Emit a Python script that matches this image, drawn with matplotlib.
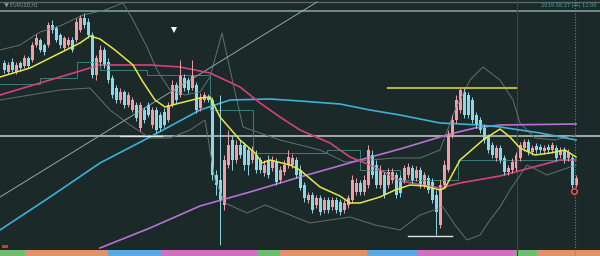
import numpy as np
import matplotlib
matplotlib.use("Agg")
from matplotlib import pyplot as plt

plt.rcParams['font.family'] = ['Noto Sans CJK KR', 'DejaVu Sans']

# candle data, price expressed in screen rows (smaller = higher)
opens = [63,72,62,72,63,66,58,60,45,40,
         45,45,25,28,35,48,45,40,40,30,
         18,22,35,75,62,50,62,78,88,100,
         92,105,110,105,128,110,105,125,110,115,
         112,120,105,85,95,78,80,88,85,108,
         100,97,100,175,180,205,165,140,160,145,
         145,150,160,155,160,173,160,168,162,180,
         172,165,165,160,170,185,200,195,205,198,
         210,200,207,200,202,210,205,200,192,183,
         192,185,155,165,185,175,185,180,175,178,
         180,175,168,178,170,185,178,182,195,225,
         185,170,135,120,110,92,95,100,115,120,
         128,137,145,158,148,158,172,170,168,158,
         148,142,152,146,147,151,147,150,148,155,
         150,158,158,185]
closes = [70,65,70,65,68,58,66,45,38,50,
          52,25,30,40,45,38,40,50,22,18,
          25,35,75,58,50,65,80,95,100,92,
          105,95,100,118,105,120,115,110,130,128,
          125,105,85,100,75,88,90,75,110,97,
          95,100,175,185,200,160,145,160,145,155,
          165,165,150,170,170,165,175,160,182,170,
          165,157,158,175,188,198,195,210,198,212,
          200,210,200,210,212,203,198,180,183,192,
          180,150,175,185,170,195,172,172,195,193,
          168,167,180,170,185,175,190,200,212,185,
          165,135,120,100,90,115,115,120,125,130,
          140,150,155,148,160,172,168,162,155,145,
          142,152,148,150,150,148,150,145,158,150,
          160,152,185,178]
highs = [60,62,58,62,61,55,56,42,34,38,
         43,22,20,26,33,36,37,37,18,15,
         13,18,32,55,45,47,58,75,85,88,
         90,92,97,102,102,107,102,107,107,112,
         108,102,80,82,60,74,77,60,82,93,
         92,94,97,170,95,155,130,135,140,140,
         142,147,146,150,157,160,155,156,158,166,
         160,150,154,157,165,182,192,192,195,195,
         197,197,197,197,199,200,195,175,178,180,
         175,145,150,160,165,172,168,168,172,175,
         165,163,165,166,167,172,175,178,190,180,
         160,130,115,95,87,88,92,97,112,117,
         125,134,142,145,145,155,165,158,152,142,
         139,139,145,143,144,145,144,142,145,147,
         147,149,155,175]
lows = [73,74,72,74,71,68,68,62,47,52,
        55,47,33,42,48,50,47,52,42,32,
        28,38,78,80,65,68,83,98,103,103,
        108,107,112,121,131,123,117,128,133,131,
        127,122,107,103,97,91,93,90,113,111,
        102,102,180,195,245,210,168,170,163,158,
        170,175,163,173,173,176,178,171,185,183,
        175,168,168,178,190,202,203,213,208,215,
        213,213,210,213,215,213,208,203,195,195,
        195,188,178,188,188,198,188,183,198,197,
        183,178,183,181,188,188,193,203,235,228,
        188,172,138,123,113,118,118,123,128,133,
        143,153,158,161,163,175,175,173,171,161,
        151,155,155,153,153,154,153,153,161,158,
        163,161,188,187]

# moving averages
yellow_x = [0,30,60,80,90,100,115,133,143,155,165,180,200,210,220,240,255,262,270,290,300,
            320,340,350,360,380,395,410,425,440,445,460,475,483,500,510,520,535,550,565,576]
yellow_y = [77,68,53,43,36,39,50,65,82,100,107,103,98,97,117,140,153,163,160,165,170,
            187,196,203,203,197,190,185,186,190,188,160,147,140,129,137,148,155,153,150,157]
pink_x = [0,50,90,100,150,180,200,210,240,260,280,300,330,350,375,400,440,460,500,530,560,576]
pink_y = [95,80,68,65,65,67,71,73,87,103,117,130,143,157,167,181,188,183,176,168,160,160]
cyan_x = [0,50,100,150,200,230,270,300,340,370,400,440,480,500,540,576]
cyan_y = [230,197,163,137,110,100,99,101,104,110,115,123,125,127,133,140]
violet_x = [100,150,200,250,300,360,400,430,450,475,500,576]
violet_y = [248,228,206,192,177,160,149,140,134,128,125,124]

# bands
upper_x = [0,20,40,60,83,105,123,133,147,157,170,185,200,210,222,233,243,260,280,300,320,
           345,370,395,420,440,455,470,483,500,513,520,535,555,576]
upper_y = [50,45,32,26,15,10,3,20,47,70,90,95,92,77,33,83,127,133,140,145,150,
           162,160,158,158,150,110,80,67,80,100,123,138,140,135]
lower_x = [0,30,60,90,110,130,150,170,190,205,215,225,247,265,290,310,330,350,375,400,420,
           443,455,467,480,490,500,510,527,547,576]
lower_y = [100,95,90,88,110,125,138,138,130,120,180,203,213,205,215,223,220,217,225,230,215,
           207,225,240,235,220,207,190,165,175,165]

# step line (teal)
teal_x = [0,40,40,77,77,100,100,147,147,210,210,253,253,327,327,360,360,400,400,458,458,573]
teal_y = [84,84,78,78,62,62,70,70,75,75,110,110,153,153,150,150,170,170,180,180,160,160]

# session strip at bottom
strip_start = [0,25,108,162,258,280,367,418,515,537]
strip_width = [25,83,54,96,22,87,51,97,22,63]
strip_color = ['#6cbf6c','#e0926c','#5ea8e0','#d070c4','#6cbf6c','#e0926c','#5ea8e0','#d070c4','#6cbf6c','#e0926c']

bg = '#1b2929'
fig = plt.figure(figsize=(6, 2.56), dpi=100)
fig.patch.set_facecolor(bg)
ax = fig.add_axes([0, 0, 1, 1])
ax.set_facecolor(bg)
ax.set_xlim(0, 600)
ax.set_ylim(256, 0)
ax.axis('off')

# frame lines
ax.axhline(1.5, color='#5a6a6a', lw=1)
ax.axhline(11, color='#7fa09a', lw=1.2)
ax.axhline(136, color='#aab6b2', lw=1.3)
ax.axvline(517, color='#34474a', lw=0.8)
ax.axvline(575, color='#2aa0a0', lw=0.8, ls=(0, (1, 1.5)))

ax.plot(upper_x, upper_y, color='#5f7272', lw=0.7)
ax.plot(lower_x, lower_y, color='#5f7272', lw=0.7)
ax.plot(teal_x, teal_y, color='#3a7f7a', lw=0.7)
ax.plot([0, 317], [197, 2], color='#9aa4a4', lw=0.7)

ax.plot(violet_x, violet_y, color='#b872d4', lw=1.2)
ax.plot(cyan_x, cyan_y, color='#3fb0d8', lw=1.2)
ax.plot(pink_x, pink_y, color='#d4427e', lw=1.2)

x = 4 + 4 * np.arange(len(opens))
o = np.array(opens)
c = np.array(closes)
up = c < o
cols = np.where(up, '#eea0a8', '#8fd6e6')
ax.vlines(x, highs, lows, colors=cols, lw=0.7)
bottom = np.minimum(o, c)
height = np.maximum(np.abs(c - o), 0.8)
ax.bar(x, height, bottom=bottom, width=3.0, color=cols, linewidth=0)

ax.plot(yellow_x, yellow_y, color='#e6e84a', lw=1.1)

ax.plot([388, 516], [88, 88], color='#b4b43c', lw=1.5)
ax.plot([120, 162], [136, 136], color='#dfe4e4', lw=1)
ax.plot([408, 452], [236, 236], color='#dfe4e4', lw=1)

ax.plot([174], [30], marker='v', color='white', ms=4, mew=0)
ax.plot([574], [191], marker='o', color='#e05050', ms=4, mfc='#2a1a1a', mew=1.2)

for s, w, col in zip(strip_start, strip_width, strip_color):
    ax.add_patch(plt.Rectangle((s, 249.5), w, 7, color=col, lw=0))
ax.add_patch(plt.Rectangle((2, 245), 6, 2.5, color='#e03030', lw=0))

ax.text(4, 6, '▼ EURUSD,H1', fontsize=3.6, color='#8a9c9c', va='center', ha='left')
ax.text(597, 5, '2019.08.27 (수) 11:00', fontsize=4.2, color='#3fa8a8', va='center', ha='right')

fig.savefig('out.png', dpi=100, facecolor=bg)
